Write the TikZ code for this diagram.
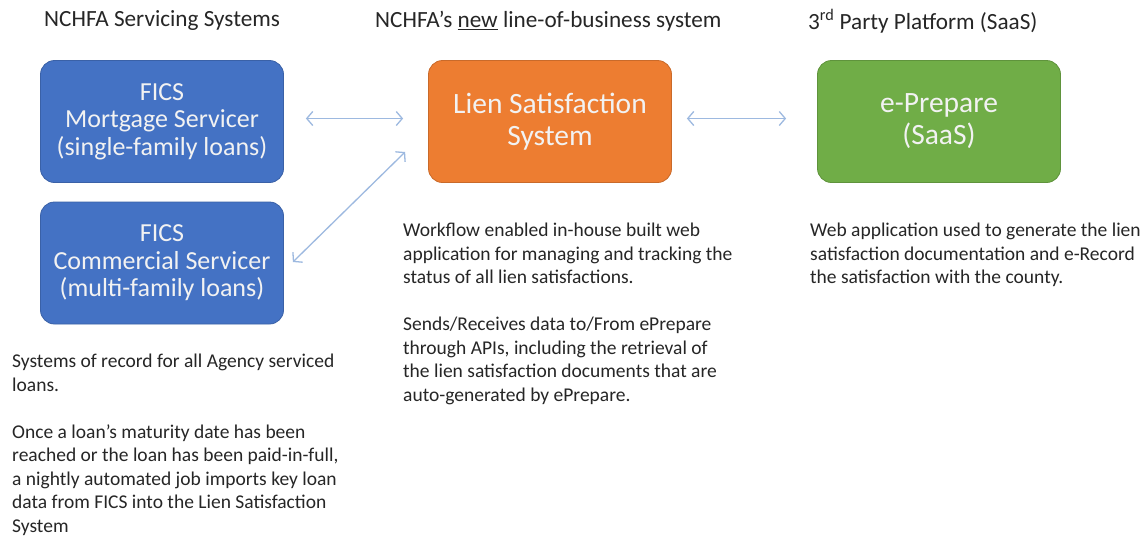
\documentclass[tikz,border=0pt]{standalone}
\usepackage{fontspec}
\setmainfont{Carlito}
\usetikzlibrary{arrows.meta, positioning}
\definecolor{ficsblue}{HTML}{4472C4}
\definecolor{lienorange}{HTML}{ED7D31}
\definecolor{saasgreen}{HTML}{70AD47}
\definecolor{linkblue}{HTML}{9DB9E0}
\definecolor{textgray}{HTML}{262626}

\begin{document}
\begin{tikzpicture}[x=1pt, y=-1pt, >={Straight Barb[length=6pt,width=14pt]},
  box/.style={rounded corners=14pt, minimum width=243pt, minimum height=122pt,
    align=center, text=white!95!black, line width=0.8pt},
  link/.style={<->, draw=linkblue, line width=1.3pt},
  head/.style={anchor=west, inner sep=0pt, text=textgray, font=\fontsize{23.2}{26}\selectfont},
  note/.style={anchor=north west, align=left, inner sep=0pt, text=textgray,
    font=\fontsize{19.5}{23.5}\selectfont}]
  \useasboundingbox[fill=white] (0,0) rectangle (1148,539);

  % column headings
  \node[head] (hleft) at (44,21) {NCHFA Servicing Systems};
  \node[head] (hmid) at (375,21) {NCHFA’s \underline{new} line-of-business system};
  \node[head] (hright) at (808,21) {3\textsuperscript{rd} Party Platform (SaaS)};

  % systems
  \node[box, fill=ficsblue, draw=ficsblue!85!black, font=\fontsize{26}{27.5}\selectfont]
    (fics1) at (162,121.5) {FICS\\Mortgage Servicer\\(single-family loans)};
  \node[box, fill=ficsblue, draw=ficsblue!85!black, font=\fontsize{26}{27.5}\selectfont]
    (fics2) at (162,263) {FICS\\Commercial Servicer\\(multi-family loans)};
  \node[box, fill=lienorange, draw=lienorange!85!black, font=\fontsize{29.5}{32}\selectfont]
    (lien) at (550,121.5) {Lien Satisfaction\\System};
  \node[box, fill=saasgreen, draw=saasgreen!85!black, font=\fontsize{29.5}{32}\selectfont]
    (eprep) at (939,121.5) {e-Prepare\\(SaaS)};

  % links
  \draw[link, shorten <=22pt, shorten >=25pt] ([yshift=3pt]fics1.east) -- ([yshift=3pt]lien.west);
  \draw[link] ([xshift=9pt,yshift=1pt]fics2.east) -- ([xshift=-23pt,yshift=-30.5pt]lien.west);
  \draw[link, shorten <=15pt, shorten >=31pt] ([yshift=3pt]lien.east) -- ([yshift=3pt]eprep.west);

  % descriptions
  \node[note] (dleft) at (12,354) {Systems of record for all Agency serviced\\
    loans.\\[23.5pt]
    Once a loan’s maturity date has been\\
    reached or the loan has been paid-in-full,\\
    a nightly automated job imports key loan\\
    data from FICS into the Lien Satisfaction\\
    System};
  \node[note] (dmid) at (403,223) {Workflow enabled in-house built web\\
    application for managing and tracking the\\
    status of all lien satisfactions.\\[23.5pt]
    Sends/Receives data to/From ePrepare\\
    through APIs, including the retrieval of\\
    the lien satisfaction documents that are\\
    auto-generated by ePrepare.};
  \node[note] (dright) at (810,223) {Web application used to generate the lien\\
    satisfaction documentation and e-Record\\
    the satisfaction with the county.};
\end{tikzpicture}
\end{document}
